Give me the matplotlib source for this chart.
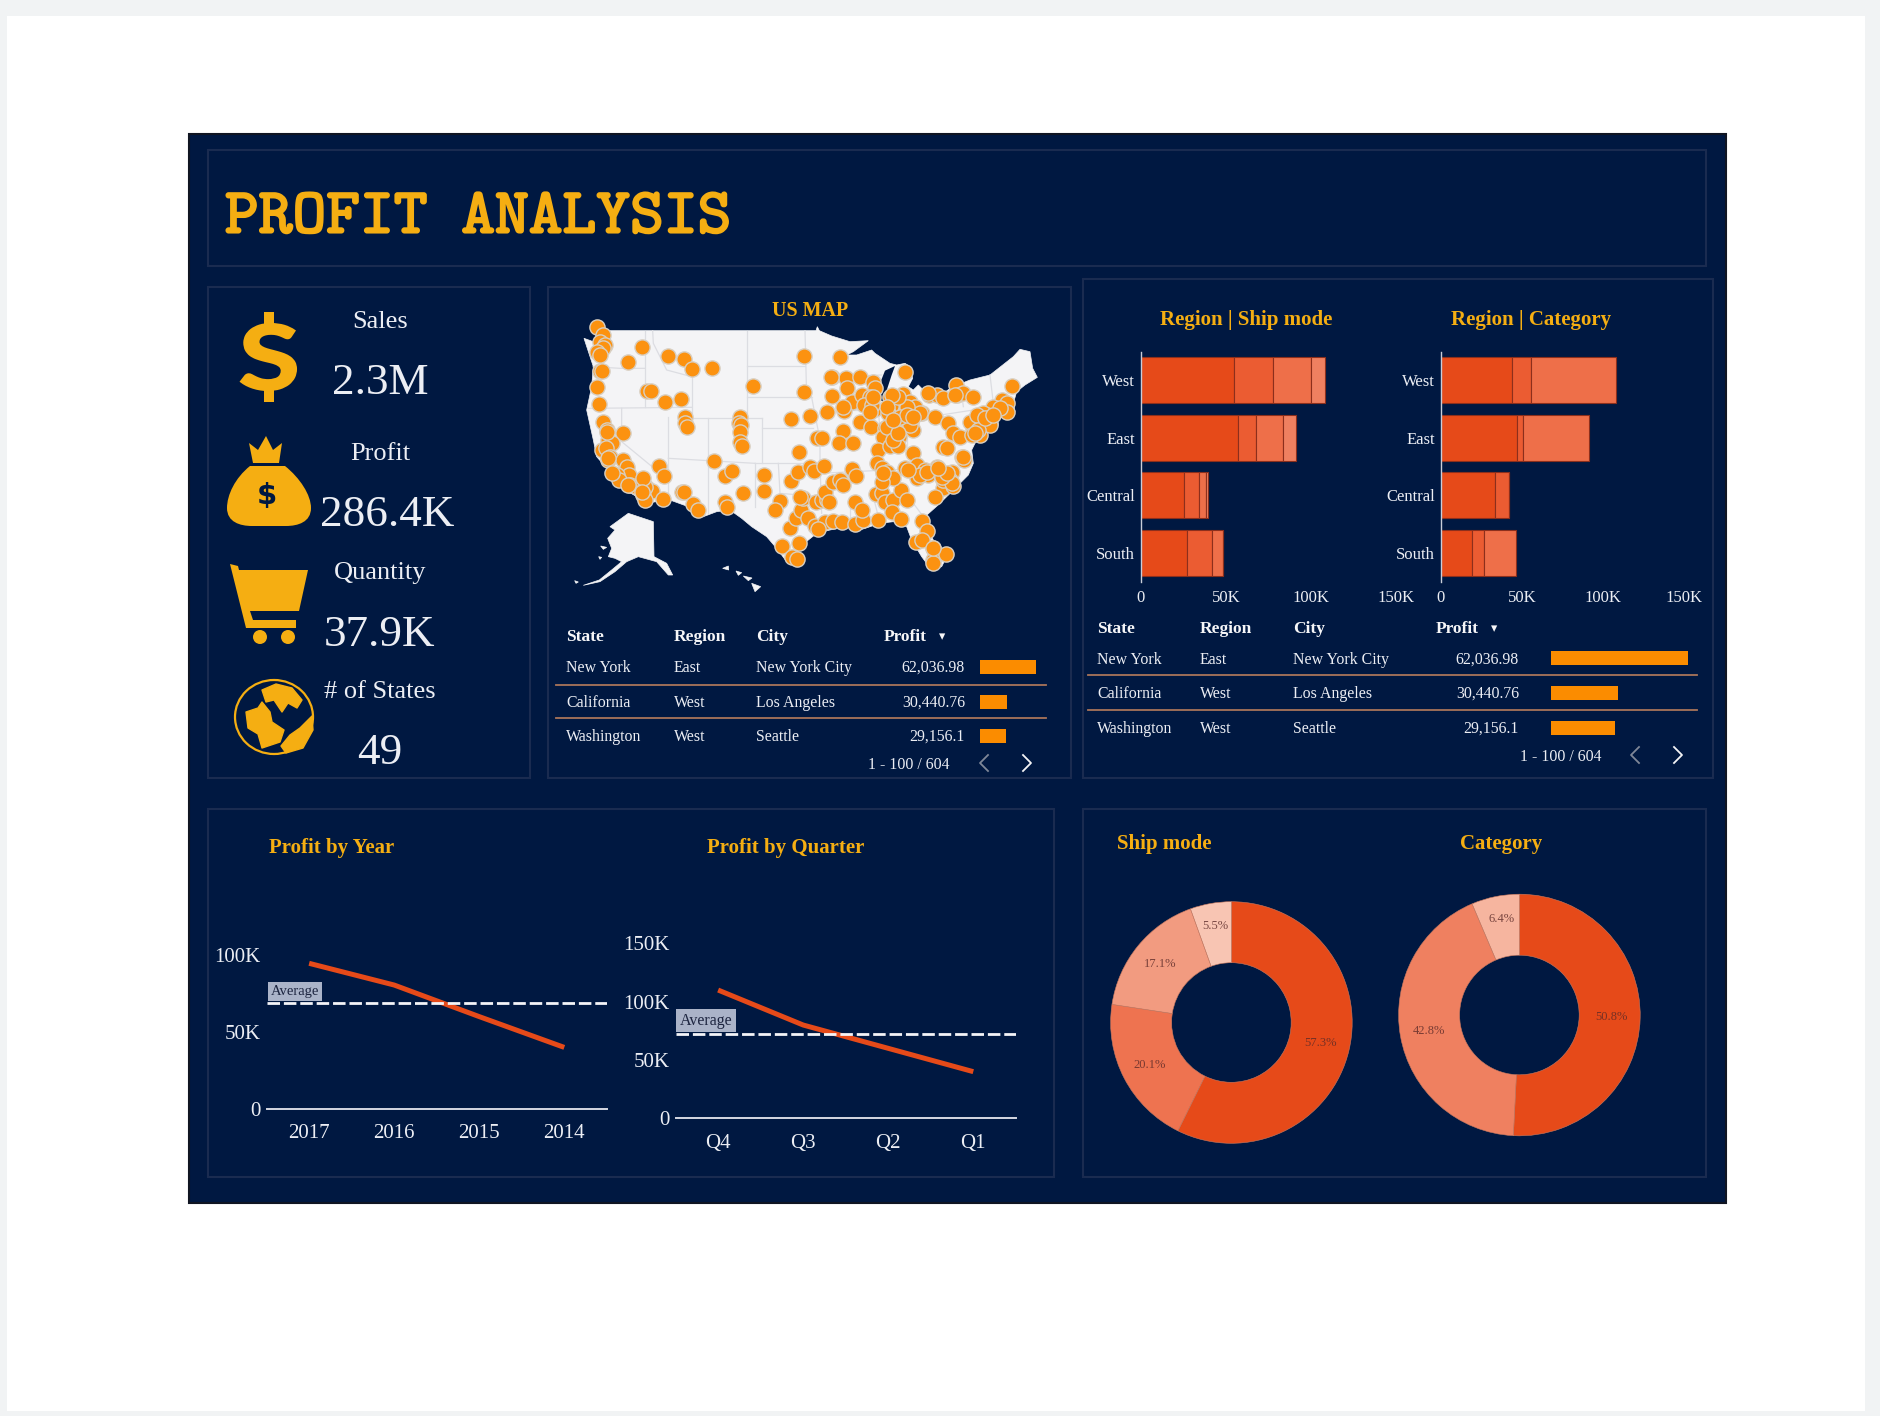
import matplotlib
matplotlib.use("Agg")
import matplotlib.pyplot as plt
import matplotlib.patheffects as pe
from matplotlib.patches import Rectangle, Polygon, PathPatch, Circle, Ellipse
from matplotlib.path import Path
from matplotlib.textpath import TextPath
from matplotlib.font_manager import FontProperties
import numpy as np

# ---------- DATA ----------
kpi_names = ["Sales", "Profit", "Quantity", "# of States"]
kpi_values = ["2.3M", "286.4K", "37.9K", "49"]

regions = ["West", "East", "Central", "South"]
ship_mode_segments = [
    [54.8, 22.7, 22.5, 7.9],
    [56.9, 11.0, 15.4, 8.1],
    [25.6, 8.8, 3.6, 1.7],
    [27.0, 14.6, 6.7, 0.0],
]
category_segments = [
    [44.0, 11.5, 52.5],
    [47.0, 3.3, 40.9],
    [33.4, 8.3, 0.0],
    [19.3, 7.3, 19.4],
]
bar_ticks = [0, 50, 100, 150]
bar_tick_labels = ["0", "50K", "100K", "150K"]

table_header = ["State", "Region", "City", "Profit"]
table_state = ["New York", "California", "Washington"]
table_region = ["East", "West", "West"]
table_city = ["New York City", "Los Angeles", "Seattle"]
table_profit = [62036.98, 30440.76, 29156.1]
table_profit_labels = ["62,036.98", "30,440.76", "29,156.1"]
pagination = "1 - 100 / 604"

years = ["2017", "2016", "2015", "2014"]
year_profit = [94.6, 80.5, 60.0, 40.0]
year_ticks = [0, 50, 100]
year_tick_labels = ["0", "50K", "100K"]
quarters = ["Q4", "Q3", "Q2", "Q1"]
quarter_profit = [110.0, 80.0, 60.0, 40.0]
quarter_ticks = [0, 50, 100, 150]
quarter_tick_labels = ["0", "50K", "100K", "150K"]

ship_share = [57.3, 20.1, 17.1, 5.5]
category_share = [50.8, 42.8, 6.4]

# map units
us_outline = [(72,115),(100,125),(120,92),(725,92),(768,92),(772,80),(778,92),(815,108),(870,125),(925,122),
 (880,155),(860,165),(890,165),(935,150),(945,160),(990,190),(1010,195),(1035,190),(1050,200),(1058,235),
 (1045,260),(1060,270),(1075,255),(1090,270),(1110,265),(1150,280),(1175,262),(1230,240),(1290,225),(1360,170),
 (1380,148),(1410,155),(1418,205),(1432,232),(1395,255),(1370,275),(1360,310),(1365,335),(1320,350),(1290,385),
 (1250,420),(1235,450),(1240,490),(1225,525),(1185,565),(1140,610),(1095,650),(1085,660),(1120,720),(1160,770),
 (1145,800),(1115,810),(1085,770),(1055,720),(1040,680),(1000,665),(960,670),(900,690),(860,680),(810,690),
 (770,700),(720,740),(705,790),(680,785),(650,745),(620,710),(575,680),(545,655),(510,630),(470,635),
 (430,650),(385,620),(330,600),(250,610),(230,590),(180,560),(145,510),(110,470),(100,420),(80,330),(95,260),(100,200)]
lake_michigan = [(975,212),(1005,198),(995,225),(982,265),(975,310),(962,300),(960,250)]
alaska = [(150,680),(205,640),(280,665),(282,770),(320,790),(338,825),(325,825),(290,785),(235,770),(200,785),
 (165,815),(120,845),(70,856),(118,840),(155,810),(185,785),(165,775),(145,770),(155,745),(143,715),(165,690)]
islands = [[(488,805),(505,798),(506,810)],[(528,813),(545,818),(535,826)],[(550,828),(576,834),(565,842)],
 [(575,850),(602,860),(585,875)],[(122,738),(140,742),(130,748)],[(116,770),(125,772),(120,778)],[(44,842),(55,846),(48,850)]]
state_lines = [[(255,92),(255,320)],[(278,92),(280,130),(320,210),(395,230)],[(395,230),(395,350)],[(560,92),(560,355)],
 [(560,198),(735,198)],[(560,292),(755,292)],[(100,200),(180,205),(255,205)],[(85,325),(395,322)],[(185,325),(185,425),(325,540)],
 [(325,350),(325,600)],[(325,475),(585,490)],[(445,355),(445,640)],[(395,355),(605,355)],[(605,355),(605,490)],
 [(605,385),(760,385)],[(585,490),(585,620)],[(585,490),(780,490)],[(655,490),(660,580),(780,590)],[(780,490),(785,640)],
 [(735,92),(740,292)],[(755,292),(780,420),(780,490)],[(810,230),(965,225)],[(815,330),(955,330)],[(955,330),(965,450)],
 [(1040,330),(1040,455)],[(870,590),(870,680)],[(940,590),(960,670)],[(780,520),(1080,505)],[(1000,530),(1090,650)],
 [(1110,350),(1240,330)],[(1200,240),(1210,320)],[(1290,225),(1300,310)]]
store_points = [(110,82),(128,105),(120,125),(135,135),(130,145),(110,155),(120,165),(245,140),(205,187),(325,167),(372,177),
 (396,207),(455,203),(120,213),(125,212),(112,260),(117,313),(262,272),(272,272),(315,307),(362,296),(374,352),(375,370),(380,380),
 (540,350),(537,370),(543,375),(540,395),(541,425),(546,438),(128,367),(140,390),(188,400),(145,420),(155,430),(125,450),(138,445),
 (150,470),(145,480),(190,480),(200,500),(208,525),(172,525),(178,540),(210,555),(230,560),(250,550),(262,565),(275,572),(250,585),
 (255,600),(310,598),(298,498),(313,528),(366,576),(372,576),(400,612),(414,630),(461,483),(496,528),(515,513),(495,605),(502,622),
 (548,578),(611,525),(611,573),(660,602),(645,630),(690,685),(708,655),(722,630),(692,542),(714,515),(718,455),(750,500),(762,512),
 (792,498),(730,595),(720,590),(768,605),(785,600),(800,600),(795,575),(818,545),(840,540),(848,555),(875,508),(888,527),(665,738),
 (716,730),(697,770),(712,778),(745,655),(770,680),(765,678),(795,665),(820,663),(845,665),(885,672),(910,660),(885,605),(905,630),
 (955,660),(948,583),(965,578),(975,605),(998,600),(995,635),(1022,570),(1040,600),(1024,658),(731,167),(841,172),(815,230),(857,235),
 (900,230),(938,245),(945,265),(860,265),(732,276),(579,259),(815,288),(875,305),(905,285),(930,290),(912,315),(945,328),(852,332),
 (802,335),(750,348),(694,358),(900,365),(932,381),(850,393),(770,415),(785,413),(838,430),(880,428),(1035,215),(990,290),(992,318),
 (1030,282),(1050,305),(985,340),(1040,330),(1070,340),(1085,340),(1125,350),(1163,370),(1180,398),(1200,410),(1003,380),(975,385),
 (970,410),(1018,410),(1052,370),(1060,390),(955,450),(990,438),(1015,438),(950,490),(965,505),(980,515),(1000,533),(965,545),(1060,458),
 (1035,505),(1070,495),(1070,535),(1095,510),(1105,525),(1130,500),(1175,515),(1170,540),(1150,565),(1180,558),(1125,592),(1150,440),
 (1160,445),(1205,470),(1213,480),(1108,285),(1130,285),(1150,293),(1187,255),(1190,285),(1208,278),(1240,290),(1325,300),(1300,320),
 (1340,310),(1340,335),(1355,258),(1280,345),(1260,355),(1240,385),(1230,365),(1290,370),(1265,375),(1260,405),(1235,405),(1087,662),
 (1102,692),(1068,725),(1118,745),(1125,760),(1118,780),(1120,790),(1158,762),
 (812,230),(850,320),(1065,320),(1050,375),(1080,340),(1040,320),(1015,290),(995,285),(980,320),(1020,350),(980,380),(1080,525),
 (1140,520),(1150,540),(1175,550),(1000,420),(1015,400),(935,315),(930,335),(940,290),(1270,340),(1250,345),(1280,365),(1320,325),
 (1290,375),(1105,280),(1185,285),(1085,720),(1120,745),(775,688),(808,605),(1040,345),(1000,360),(1060,350),(1145,530),(1210,470),
 (142,395),(145,475),(205,555),(255,560),(250,535),(245,575),(155,520),(1100,515),(1160,520),(1135,505),(970,520),(1045,510),(1255,390),
 (1275,355),(1300,345),(1245,400)]

# ---------- STYLE ----------
W, H = 1880, 1416
NAVY = "#001841"; EDGE = "#1a2b50"; GOLD = "#f5ae12"; TXT = "#eceef4"
ORANGE_BAR = "#fb8c00"; DOT = "#fc9210"; SEP = "#a9745a"
SERIF = ["Liberation Serif", "DejaVu Serif"]
BAR_COLS = ["#e64a19", "#eb5c32", "#ee6f49", "#ef8060"]
SHIP_COLS = ["#e64a19", "#ee7350", "#f29b80", "#f8c5b3"]
CAT_COLS = ["#e64a19", "#ef8060", "#f6b59f"]
plt.rcParams["font.family"] = SERIF

fig = plt.figure(figsize=(W/100, H/100), dpi=100, facecolor="white")
bg = fig.add_axes([0, 0, 1, 1]); bg.set_xlim(0, W); bg.set_ylim(H, 0); bg.axis("off")

def axpx(x0, y0, x1, y1, **kw):
    a = fig.add_axes([x0/W, 1-y1/H, (x1-x0)/W, (y1-y0)/H], **kw)
    a.patch.set_alpha(0)
    return a

def box(x0, y0, x1, y1, **kw):
    bg.add_patch(Rectangle((x0, y0), x1-x0, y1-y0, **kw))

def label(x, y, s, size=11.4, color=TXT, ha="center", weight="normal", **kw):
    return bg.text(x, y, s, fontsize=size, color=color, ha=ha, va="center_baseline", fontweight=weight, **kw)

# page
for r in [(0,0,W,16),(0,0,7,H),(1865,0,W,H),(0,1411,W,H)]:
    box(*r, fc="#f1f3f4", ec="none")
box(189, 134, 1726, 1203, fc=NAVY, ec="#101522", lw=1.5)
for r in [(208,150,1706,266),(208,287,530,778),(548,287,1071,778),(1083,279,1713,778),(208,809,1054,1177),(1083,809,1706,1177)]:
    box(*r, fc="none", ec=EDGE, lw=1.5)

t = label(225, 213, "PROFIT ANALYSIS", size=46.3, color=GOLD, ha="left", family="cmtt10")
t.set_path_effects([pe.withStroke(linewidth=1.5, foreground=GOLD)])

# KPIs
kpi_y = [(320, 379), (452, 511), (571, 630), (690, 748)]
kpi_x = [380, 387, 380, 380]
for n, v, (y0, y1), x in zip(kpi_names, kpi_values, kpi_y, kpi_x):
    label(380, y0, n, size=19)
    label(x, y1, v, size=32.5)

# icons
def fit_text(s, x0, y0, x1, y1, color):
    tp = TextPath((0, 0), s, size=100, prop=FontProperties(family="Lato", weight="bold"))
    bb = tp.get_extents()
    v = tp.vertices.copy()
    v[:, 0] = x0 + (v[:, 0]-bb.x0)/bb.width*(x1-x0)
    v[:, 1] = y1 - (v[:, 1]-bb.y0)/bb.height*(y1-y0)
    bg.add_patch(PathPatch(Path(v, tp.codes), fc=color, ec=color, lw=1.5))
fit_text("S", 241, 324, 296, 390, GOLD)
box(264, 312, 274, 326, fc=GOLD, ec="none")
box(264, 389, 274, 402, fc=GOLD, ec="none")
# money bag
bg.add_patch(Polygon([(249,443),(258,450),(266,436),(273,450),(282,443),(279,463),(253,463)], fc=GOLD, ec="none"))
C = Path.CURVE4
bag = Path([(250,466),(235,478),(227,495),(227,508),(227,522),(240,526),(252,526),(286,526),(298,526),(311,522),(311,508),(311,495),(300,478),(285,466),(250,466)],
           [Path.MOVETO,C,C,C,C,C,C,Path.LINETO,C,C,C,C,C,C,Path.LINETO])
bg.add_patch(PathPatch(bag, fc=GOLD, ec="none"))
bg.text(267, 496, "$", fontsize=21, color=NAVY, ha="center", va="center", fontweight="bold", family="DejaVu Sans")
# cart
bg.add_patch(Polygon([(230,564),(238,566),(239,570),(308,570),(299,611),(250,611),(253,620),(296,620),(296,628),(246,628)], fc=GOLD, ec="none"))
for cx in (260, 288):
    bg.add_patch(Circle((cx, 637), 7, fc=GOLD, ec="none"))
# globe
bg.add_patch(Ellipse((274, 717), 78, 74, fc="none", ec=GOLD, lw=1.6))
for pts in [[(262,690),(276,684),(292,688),(302,700),(297,708),(288,703),(282,712),(274,700),(266,702)],
            [(246,712),(258,708),(262,702),(270,712),(272,722),(284,730),(280,742),(262,748),(258,734),(248,728)],
            [(290,735),(300,728),(312,716),(313,730),(303,748),(286,753),(281,746)]]:
    bg.add_patch(Polygon(pts, fc=GOLD, ec=GOLD, lw=1, joinstyle="round"))

# map
label(810, 308, "US MAP", size=14.4, color=GOLD, weight="bold")
mp = axpx(560, 300, 1060, 610); mp.set_xlim(0, 1500); mp.set_ylim(930, 0); mp.axis("off")
mp.add_patch(Polygon(us_outline, fc="#f4f4f6", ec="#f4f4f6", lw=0.5))
mp.add_patch(Polygon(alaska, fc="#f4f4f6", ec="#f4f4f6", lw=0.5))
for h in islands:
    mp.add_patch(Polygon(h, fc="#f4f4f6", ec="#f4f4f6", lw=0.5))
mp.add_patch(Polygon(lake_michigan, fc=NAVY, ec="none"))
for ln in state_lines:
    xs, ys = zip(*ln)
    mp.plot(xs, ys, color="#dcdde2", lw=0.9, zorder=2)
sx, sy = zip(*store_points)
mp.scatter(sx, sy, s=120, c=DOT, edgecolors="#d8cfc2", linewidths=1.0, zorder=3)

# tables
def table(cols, val_right, bar_x0, bar_x1, head_y, row_ys, sep_ys, sep_x, page_x, page_y, arrows):
    for x, h in zip(cols, table_header):
        label(x, head_y, h, size=12.5, ha="left", weight="bold", color="#f6f6f8")
    label(cols[3]+58, head_y, "▾", size=9, family="DejaVu Sans", color="#f6f6f8")
    for y, st, re, ci, pl in zip(row_ys, table_state, table_region, table_city, table_profit_labels):
        label(cols[0], y, st, ha="left")
        label(cols[1], y, re, ha="left")
        label(cols[2], y, ci, ha="left")
        label(val_right, y, pl, ha="right")
    for y in sep_ys:
        bg.plot(sep_x, [y, y], color=SEP, lw=1.3)
    a = axpx(bar_x0, bar_ys[0]-20, bar_x1, bar_ys[-1]+20)
    a.set_xlim(0, max(table_profit)); a.set_ylim(bar_ys[-1]+20, bar_ys[0]-20); a.axis("off")
    a.barh(bar_ys, table_profit, height=14, color=ORANGE_BAR, align="center")
    label(page_x, page_y, pagination, ha="center")
    for ax_, col, sgn in zip(arrows, ("#7f8798", "#f4f4f6"), (1, -1)):
        bg.plot([ax_+sgn*4, ax_-sgn*4, ax_+sgn*4], [page_y-8, page_y, page_y+8], color=col, lw=1.3)

bar_ys = [667, 702, 736]
table([566, 674, 756, 884], 965, 980, 1036, 635, [666, 701, 735], [685, 718], [556, 1046], 909, 763, (984, 1027))
bar_ys = [658, 693, 728]
table([1097, 1200, 1293, 1436], 1519, 1551, 1688, 627, [658, 692, 727], [675, 710], [1088, 1697], 1561, 755, (1635, 1678))

# stacked bars
def stacked(x0, x1, segs, cols, title_x, title):
    label(title_x, 318, title, size=15, color=GOLD, weight="bold")
    a = axpx(x0, 351.7, x1, 581.7)
    a.set_xlim(0, 150); a.set_ylim(3.5, -0.5)
    y = np.arange(len(regions))
    segs = np.array(segs); left = np.zeros(len(regions))
    for j in range(segs.shape[1]):
        a.barh(y, segs[:, j], left=left, height=0.8, color=cols[j], edgecolor="#8c2f1c", linewidth=0.8)
        left += segs[:, j]
    a.set_yticks(y, regions); a.set_xticks(bar_ticks, bar_tick_labels)
    a.tick_params(length=0, labelcolor=TXT, labelsize=12)
    a.tick_params(axis="x", pad=6); a.tick_params(axis="y", pad=4)
    for s in ("top", "right", "bottom"):
        a.spines[s].set_visible(False)
    a.spines["left"].set_color("#c9cdd8"); a.spines["left"].set_linewidth(1)

stacked(1140.8, 1396.3, ship_mode_segments, BAR_COLS, 1246, "Region | Ship mode")
stacked(1440.8, 1684.5, category_segments, BAR_COLS, 1531, "Region | Category")

# lines
def line_chart(x0, x1, y0, ymax, per50, cats, vals, ticks, tlabels, title_x, title, avg_size):
    label(title_x, 845, title, size=15, color=GOLD, weight="bold")
    top = y0 - ymax/50*per50
    a = axpx(x0, top, x1, y0)
    a.set_xlim(-0.5, 3.5); a.set_ylim(0, ymax)
    xs = np.arange(len(cats))
    a.plot(xs, vals, color="#e64a19", lw=3.6, solid_capstyle="butt", zorder=3)
    m = float(np.mean(vals))
    a.axhline(m, color="#f4f4f8", lw=2, dashes=(4.5, 1.4), zorder=4)
    a.annotate("Average", (0, m), xycoords=("axes fraction", "data"), xytext=(3, 3.5), textcoords="offset points",
               fontsize=avg_size, color="#1d2540", ha="left", va="bottom",
               bbox=dict(boxstyle="square,pad=0.22", fc="#aab3c8", ec="none"))
    a.set_xticks(xs, cats); a.set_yticks(ticks, tlabels)
    a.tick_params(length=0, labelcolor=TXT, labelsize=15)
    a.tick_params(axis="x", pad=11); a.tick_params(axis="y", pad=4.5)
    for s in ("top", "right", "left"):
        a.spines[s].set_visible(False)
    a.spines["bottom"].set_color("#d5d8e2"); a.spines["bottom"].set_linewidth(1.4)

line_chart(266.6, 606.8, 1109, 120, 77, years, year_profit, year_ticks, year_tick_labels, 332, "Profit by Year", 10.5)
line_chart(675.6, 1015.8, 1118.3, 160, 58.3, quarters, quarter_profit, quarter_ticks, quarter_tick_labels, 786, "Profit by Quarter", 11.5)

# donuts
def donut(cx, cy, r, vals, cols, title_x, title):
    label(title_x, 841, title, size=15, color=GOLD, weight="bold")
    a = axpx(cx-r, cy-r, cx+r, cy+r)
    _, _, auto = a.pie(vals, colors=cols, startangle=90, counterclock=False, radius=1, autopct="%.1f%%",
                       pctdistance=0.76, wedgeprops=dict(width=0.505, linewidth=0.4, edgecolor="#c97a60"))
    a.set_xlim(-1, 1); a.set_ylim(-1, 1)
    for t, v in zip(auto, vals):
        t.set_fontsize(9); t.set_color("#5a2a28"); t.set_alpha(0.8)
        if v < 10:
            px, py = t.get_position()
            t.set_position((px, py*1.07))

donut(1231.4, 1022.5, 120.8, ship_share, SHIP_COLS, 1164, "Ship mode")
donut(1519.4, 1015, 120.8, category_share, CAT_COLS, 1501, "Category")

fig.savefig("out.png", dpi=100, facecolor=fig.get_facecolor())
